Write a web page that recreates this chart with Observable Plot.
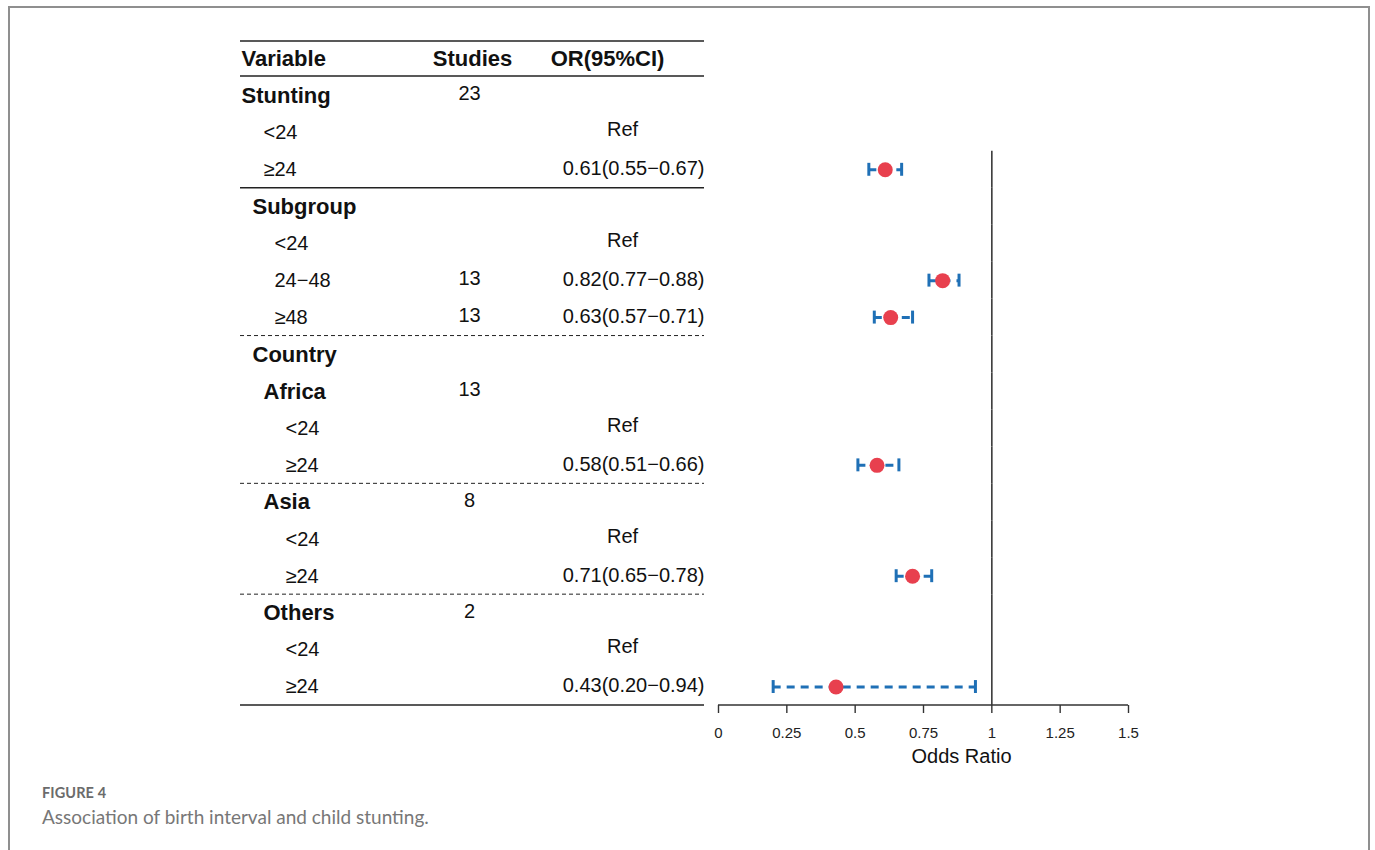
<!DOCTYPE html>
<html>
<head>
<meta charset="utf-8">
<script src="https://cdn.jsdelivr.net/npm/d3@7"></script>
<script src="https://cdn.jsdelivr.net/npm/@observablehq/plot@0.6"></script>
<style>
  html, body { margin: 0; padding: 0; background: #fff; }
  body { position: relative; width: 1375px; height: 850px; overflow: hidden; }
  #frame { position: absolute; left: 8px; top: 6px; width: 1362px; height: 900px;
           border: 2px solid #8f8f8f; border-bottom: none; box-sizing: border-box; }
  #chart { position: absolute; left: 0; top: 0; }
  #fig { position: absolute; left: 42px; top: 784px; font-family: Lato, "Open Sans", sans-serif;
         font-weight: 700; font-size: 14.5px; color: #6b6b6b; letter-spacing: 0.1px; }
  #cap { position: absolute; left: 42px; top: 805px; font-family: Lato, "Open Sans", sans-serif;
         font-weight: 400; font-size: 19px; color: #777; }
</style>
</head>
<body>
<div id="frame"></div>
<div id="chart"></div>
<div id="fig">FIGURE 4</div>
<div id="cap">Association of birth interval and child stunting.</div>
<script>
// ---------- data ----------
const headers = ["Variable", "Studies", "OR(95%CI)"];
const labels  = ["Stunting", "<24", "≥24", "Subgroup", "<24", "24−48", "≥48", "Country", "Africa", "<24", "≥24", "Asia", "<24", "≥24", "Others", "<24", "≥24"];
const indent  = [0, 2, 2, 1, 3, 3, 3, 1, 2, 4, 4, 2, 4, 4, 2, 4, 4];
const isHead  = [1, 0, 0, 1, 0, 0, 0, 1, 1, 0, 0, 1, 0, 0, 1, 0, 0];
const studies = [23, null, null, null, null, 13, 13, null, 13, null, null, 8, null, null, 2, null, null];
const isRef   = [0, 1, 0, 0, 1, 0, 0, 0, 0, 1, 0, 0, 1, 0, 0, 1, 0];
const est     = [null, null, 0.61, null, null, 0.82, 0.63, null, null, null, 0.58, null, null, 0.71, null, null, 0.43];
const lo      = [null, null, 0.55, null, null, 0.77, 0.57, null, null, null, 0.51, null, null, 0.65, null, null, 0.20];
const hi      = [null, null, 0.67, null, null, 0.88, 0.71, null, null, null, 0.66, null, null, 0.78, null, null, 0.94];
const sepAfter = [3, 7, 11, 14];
const sepKind  = ["solid", "dashed", "dashed", "dashed"];
const xTicks  = [0, 0.25, 0.5, 0.75, 1, 1.25, 1.5];
const xLabel  = "Odds Ratio";

// ---------- table built from the arrays ----------
const rows = labels.map((label, i) => ({
  row: i + 1, label, indent: indent[i], head: isHead[i],
  studies: studies[i], ref: isRef[i], est: est[i], lo: lo[i], hi: hi[i],
  orText: isRef[i] ? "Ref" : (est[i] != null ? `${est[i].toFixed(2)}(${lo[i].toFixed(2)}−${hi[i].toFixed(2)})` : null)
}));
const estRows = rows.filter(d => d.est != null);
const nRows = rows.length + 1;
const firstEst = d3.min(estRows, d => d.row);

// ---------- layout ----------
const W = 1375, H = 770;
const mLeft = 718, mRight = 247, mTop = 40, mBottom = 65;
const tableLeft = 240, tableRight = 704;
const colVar = 241, colStudies = 469, colRef = 622, colOR = 704;
const indentStep = 11;
const FONT = "'Liberation Sans', Arial, Helvetica, sans-serif";
const blue = "#1f70b6", red = "#e8404e";

const marks = [];

// headers
marks.push(Plot.text([headers[0]], {y: () => 0, text: d => d, frameAnchor: "left", dx: colVar - mLeft, textAnchor: "start", fontWeight: "bold", fontSize: 22, fill: "#111"}));
marks.push(Plot.text([headers[1]], {y: () => 0, text: d => d, frameAnchor: "left", dx: 472 - mLeft, textAnchor: "middle", fontWeight: "bold", fontSize: 22, fill: "#111"}));
marks.push(Plot.text([headers[2]], {y: () => 0, text: d => d, frameAnchor: "left", dx: 607 - mLeft, textAnchor: "middle", fontWeight: "bold", fontSize: 22, fill: "#111"}));

// variable labels, grouped by indent level
for (const lvl of d3.sort(new Set(indent))) {
  for (const h of [0, 1]) {
    const sub = rows.filter(d => d.indent === lvl && d.head === h);
    if (!sub.length) continue;
    marks.push(Plot.text(sub, {
      y: "row", text: "label", frameAnchor: "left", dx: colVar + lvl * indentStep - mLeft,
      textAnchor: "start", fontWeight: h ? "bold" : "normal", fontSize: h ? 22 : 20, fill: "#111"
    }));
  }
}
// studies
marks.push(Plot.text(rows.filter(d => d.studies != null), {y: "row", text: d => String(d.studies), frameAnchor: "left", dx: colStudies - mLeft, textAnchor: "middle", fontSize: 20, fill: "#111", dy: -2}));
// Ref
marks.push(Plot.text(rows.filter(d => d.ref), {y: "row", text: "orText", frameAnchor: "left", dx: colRef - mLeft, textAnchor: "middle", fontSize: 20, fill: "#111", dy: -3}));
// OR values
marks.push(Plot.text(estRows, {y: "row", text: "orText", frameAnchor: "left", dx: colOR - mLeft, textAnchor: "end", fontSize: 20, fill: "#111", dy: -1}));

// reference line at OR = 1
marks.push(Plot.tickX(d3.range(firstEst, nRows), {x: () => 1, y: d => d, stroke: "#3a3a3a", strokeWidth: 1.6}));
// CI lines
marks.push(Plot.ruleY(estRows, {y: "row", x1: "lo", x2: "hi", stroke: blue, strokeWidth: 3, strokeDasharray: "8,6"}));
marks.push(Plot.tickX(estRows, {x: "lo", y: "row", insetTop: 12, insetBottom: 12, stroke: blue, strokeWidth: 3}));
marks.push(Plot.tickX(estRows, {x: "hi", y: "row", insetTop: 12, insetBottom: 12, stroke: blue, strokeWidth: 3}));
// points
marks.push(Plot.dot(estRows, {x: "est", y: "row", r: 7.5, fill: red, stroke: "none"}));
// axis ticks and tick labels
marks.push(Plot.axisX({ticks: xTicks, tickFormat: () => "", tickSize: 8, color: "#333", strokeWidth: 1.4, label: null}));
marks.push(Plot.text(xTicks, {x: d => d, text: d => String(d), frameAnchor: "bottom", lineAnchor: "middle", dy: 28, fontSize: 15, fill: "#222"}));
marks.push(Plot.text([xLabel], {text: d => d, frameAnchor: "bottom", lineAnchor: "middle", dx: 38, dy: 51, fontSize: 20, fill: "#111"}));

const plot = Plot.plot({
  width: W, height: H,
  marginLeft: mLeft, marginRight: mRight, marginTop: mTop, marginBottom: mBottom,
  style: {fontFamily: FONT, fontSize: "15px", background: "transparent", overflow: "visible"},
  x: {domain: [0, 1.5], axis: null},
  y: {type: "band", domain: d3.range(nRows), padding: 0, round: false, axis: null},
  marks
});

// table rules and axis baseline, positioned through the plot's own scales
const yScale = plot.scale("y"), xScale = plot.scale("x");
const rowTop = r => yScale.apply(r);
const rowBottom = r => yScale.apply(r) + yScale.bandwidth;
const g = d3.select(plot).append("g").attr("fill", "none");
const hline = (y, x1, x2, w, dash) => g.append("line").attr("x1", x1).attr("x2", x2).attr("y1", y).attr("y2", y)
  .attr("stroke", "#222").attr("stroke-width", w).attr("stroke-dasharray", dash || null);
hline(rowTop(0) + 1, tableLeft, tableRight, 1.6);
hline(rowBottom(0) - 1, tableLeft, tableRight, 1.6);
sepAfter.forEach((r, i) => hline(rowBottom(r), tableLeft, tableRight, sepKind[i] === "solid" ? 1.4 : 1, sepKind[i] === "solid" ? null : "4,3"));
hline(rowBottom(nRows - 1), tableLeft, tableRight, 1.6);
hline(rowBottom(nRows - 1), xScale.apply(xTicks[0]), xScale.apply(xTicks[xTicks.length - 1]), 1.4).attr("stroke", "#333");

document.getElementById("chart").appendChild(plot);
</script>
</body>
</html>
